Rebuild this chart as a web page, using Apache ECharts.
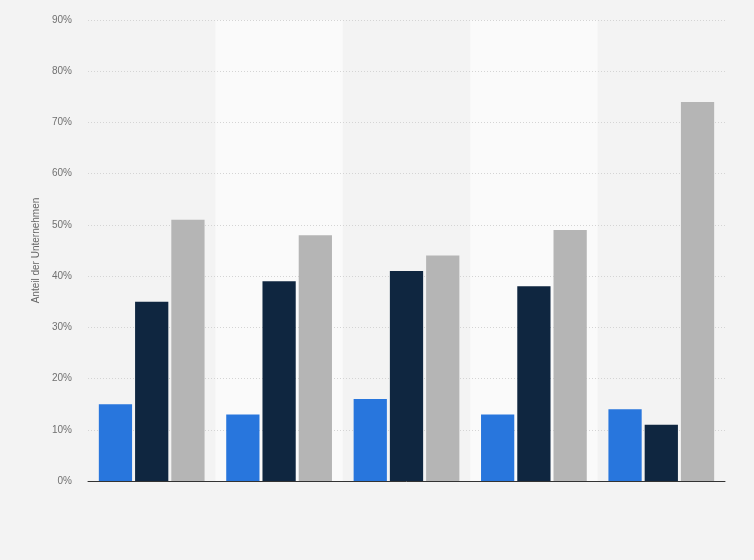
<!DOCTYPE html>
<html>
<head>
<meta charset="utf-8">
<script src="https://cdn.jsdelivr.net/npm/echarts@6/dist/echarts.min.js"></script>
<style>
  html, body { margin: 0; padding: 0; background: #f3f3f3; }
  #chart { width: 754px; height: 560px; }
</style>
</head>
<body>
<div id="chart"></div>
<script>
// categories are not labelled in the picture
const categories = ['Gruppe 1', 'Gruppe 2', 'Gruppe 3', 'Gruppe 4', 'Gruppe 5'];
const seriesA = [15, 13, 16, 13, 14];
const seriesB = [35, 39, 41, 38, 11];
const seriesC = [51, 48, 44, 49, 74];
const yTicks = [0, 10, 20, 30, 40, 50, 60, 70, 80, 90];

const chart = echarts.init(document.getElementById('chart'));

const bar = (data, color) => ({
  type: 'bar',
  data: data,
  barGap: '9%',
  barCategoryGap: '17%',
  z: 3,
  itemStyle: { color: color },
});

chart.setOption({
  animation: false,
  backgroundColor: '#f3f3f3',
  grid: { left: 88, right: 29, top: 20, bottom: 79 },
  xAxis: [
    {
      // column bands, drawn under the grid lines
      type: 'category',
      data: categories,
      z: 0,
      axisLine: { show: false },
      axisTick: { show: false },
      axisLabel: { show: false },
      splitArea: {
        show: true,
        areaStyle: { color: ['rgba(255,255,255,0)', 'rgba(255,255,255,0.55)'] },
      },
    },
    {
      // baseline on top
      type: 'category',
      data: categories,
      position: 'bottom',
      z: 4,
      axisLine: { lineStyle: { color: '#333', width: 1 } },
      axisTick: { show: false },
      axisLabel: { show: false },
    },
  ],
  yAxis: {
    type: 'value',
    z: 1,
    min: yTicks[0],
    max: yTicks[yTicks.length - 1],
    interval: 10,
    name: 'Anteil der Unternehmen',
    nameLocation: 'middle',
    nameGap: 43,
    nameTextStyle: { color: '#666', fontSize: 10, fontFamily: 'Arial, Liberation Sans' },
    axisLine: { show: false },
    axisTick: { show: false },
    axisLabel: {
      formatter: '{value}%',
      color: '#707070',
      fontSize: 10,
      margin: 16,
      fontFamily: 'Arial, Liberation Sans',
    },
    splitLine: { lineStyle: { color: '#d4d4d4', type: [1, 2] } },
  },
  series: [
    bar(seriesA, '#2876dd'),
    bar(seriesB, '#0f2640'),
    bar(seriesC, '#b5b5b5'),
  ],
});
</script>
</body>
</html>
